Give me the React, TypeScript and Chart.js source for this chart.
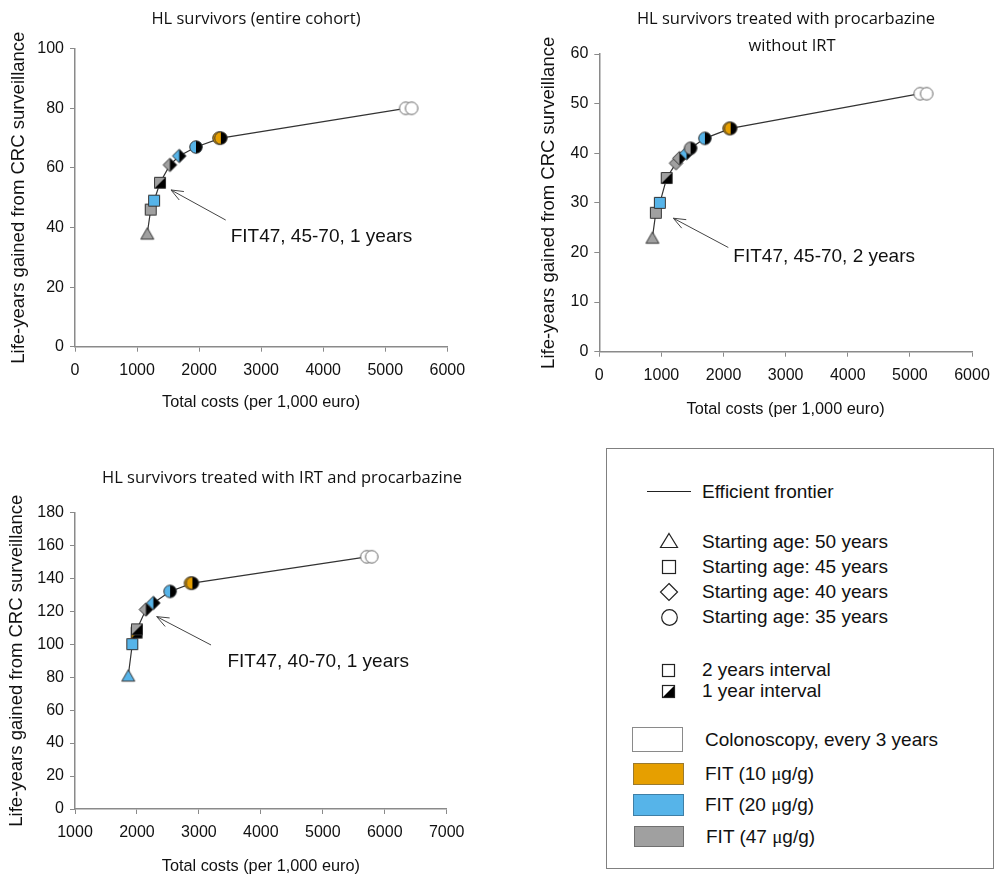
import React, { useEffect, useRef } from 'react';
import { Chart, registerables } from 'chart.js';

Chart.register(...registerables);

// ---------- colours ----------
const GRAY = '#A0A0A0';
const BLUE = '#56B4E9';
const ORANGE = '#E69F00';
const WHITE = '#FFFFFF';
const testColor: Record<string, string> = { FIT47: GRAY, FIT20: BLUE, FIT10: ORANGE, COL: WHITE };

// ---------- chart 1: entire cohort ----------
const c1Cost = [1165, 1220, 1275, 1370, 1530, 1680, 1950, 2320, 2350, 5330, 5425];
const c1LifeYears = [38, 46, 49, 55, 61, 64, 67, 70, 70, 80, 80];
const c1Shape = ['triangle', 'square', 'square', 'square', 'diamond', 'diamond', 'circle', 'circle', 'circle', 'circle', 'circle'];
const c1Test = ['FIT47', 'FIT47', 'FIT20', 'FIT47', 'FIT47', 'FIT20', 'FIT20', 'FIT10', 'FIT10', 'COL', 'COL'];
const c1Interval = [2, 2, 2, 1, 1, 1, 1, 2, 1, 3, 3];
const c1Frontier = [1, 1, 1, 1, 1, 1, 1, 0, 1, 1, 0];

// ---------- chart 2: procarbazine without IRT ----------
const c2Cost = [855, 910, 975, 1085, 1235, 1290, 1405, 1470, 1700, 2090, 2115, 5165, 5270];
const c2LifeYears = [23, 28, 30, 35, 38, 39, 40, 41, 43, 45, 45, 52, 52];
const c2Shape = ['triangle', 'square', 'square', 'square', 'diamond', 'diamond', 'diamond', 'circle', 'circle', 'circle', 'circle', 'circle', 'circle'];
const c2Test = ['FIT47', 'FIT47', 'FIT20', 'FIT47', 'FIT47', 'FIT47', 'FIT20', 'FIT47', 'FIT20', 'FIT10', 'FIT10', 'COL', 'COL'];
const c2Interval = [2, 2, 2, 1, 2, 1, 1, 1, 1, 2, 1, 3, 3];
const c2Frontier = [1, 1, 1, 1, 1, 1, 1, 1, 1, 0, 1, 1, 0];

// ---------- chart 3: IRT and procarbazine ----------
const c3Cost = [1860, 1925, 1995, 2000, 2145, 2265, 2535, 2865, 2895, 5710, 5790];
const c3LifeYears = [81, 100, 107, 109, 121, 125, 132, 137, 137, 153, 153];
const c3Shape = ['triangle', 'square', 'square', 'square', 'diamond', 'diamond', 'circle', 'circle', 'circle', 'circle', 'circle'];
const c3Test = ['FIT20', 'FIT20', 'FIT10', 'FIT47', 'FIT47', 'FIT20', 'FIT20', 'FIT10', 'FIT10', 'COL', 'COL'];
const c3Interval = [2, 2, 1, 1, 1, 1, 1, 2, 1, 3, 3];
const c3Frontier = [1, 1, 0, 1, 1, 1, 1, 0, 1, 1, 0];

// ---------- annotations (data coordinates) ----------
const noteText = ['FIT47, 45-70, 1 years', 'FIT47, 45-70, 2 years', 'FIT47, 40-70, 1 years'];
const noteTail = [[2429, 42.5], [2077, 21.0], [3196, 99.5]];
const noteHead = [[1547, 52.6], [1192, 26.9], [2319, 116.7]];
const noteLabel = [[2509, 36.8], [2158, 19.2], [3460, 89.4]];

// ---------- axes ----------
const xMin = [0, 0, 1000];
const xMax = [6000, 6000, 7000];
const yMax = [100, 60, 180];
const yStep = [20, 10, 20];
const chartTitles = [['HL survivors (entire cohort)'], ['HL survivors treated with procarbazine', 'without IRT'], ['HL survivors treated with IRT and procarbazine']];
const xTitle = 'Total costs (per 1,000 euro)';
const yTitle = 'Life-years gained from CRC surveillance';

const SANS = '"Liberation Sans", Arial, sans-serif';

function makeMarker(shape: string, fill: string, half: boolean): HTMLCanvasElement {
  const s = shape === 'square' ? 11 : shape === 'circle' ? 12.5 : shape === 'triangle' ? 13 : 13.5;
  const c = document.createElement('canvas');
  const W = Math.ceil(s + 3);
  c.width = W;
  c.height = W;
  const ctx = c.getContext('2d')!;
  const cx = W / 2, cy = W / 2;
  const p = new Path2D();
  if (shape === 'square') {
    p.rect(cx - s / 2, cy - s / 2, s, s);
  } else if (shape === 'circle') {
    p.arc(cx, cy, s / 2, 0, Math.PI * 2);
  } else if (shape === 'triangle') {
    const h = s * 0.87;
    p.moveTo(cx, cy - h / 2);
    p.lineTo(cx + s / 2, cy + h / 2);
    p.lineTo(cx - s / 2, cy + h / 2);
    p.closePath();
  } else {
    p.moveTo(cx, cy - s / 2);
    p.lineTo(cx + s / 2, cy);
    p.lineTo(cx, cy + s / 2);
    p.lineTo(cx - s / 2, cy);
    p.closePath();
  }
  ctx.fillStyle = fill;
  ctx.fill(p);
  if (half) {
    ctx.save();
    ctx.clip(p);
    ctx.fillStyle = '#000';
    ctx.beginPath();
    if (shape === 'square') {
      ctx.moveTo(cx + s / 2, cy - s / 2);
      ctx.lineTo(cx + s / 2, cy + s / 2);
      ctx.lineTo(cx - s / 2, cy + s / 2);
      ctx.closePath();
    } else {
      ctx.rect(cx, 0, W, W);
    }
    ctx.fill();
    ctx.restore();
  }
  ctx.strokeStyle = fill === WHITE ? '#666' : '#333';
  ctx.lineWidth = 1;
  ctx.stroke(p);
  return c;
}

function notePlugin(i: number) {
  return {
    id: 'arrowNote' + i,
    afterDatasetsDraw(chart: any) {
      const { ctx, scales } = chart;
      const x = scales.x, y = scales.y;
      const tx = x.getPixelForValue(noteTail[i][0]), ty = y.getPixelForValue(noteTail[i][1]);
      const hx = x.getPixelForValue(noteHead[i][0]), hy = y.getPixelForValue(noteHead[i][1]);
      ctx.save();
      ctx.strokeStyle = '#444';
      ctx.lineWidth = 1;
      ctx.beginPath();
      ctx.moveTo(tx, ty);
      ctx.lineTo(hx, hy);
      const ang = Math.atan2(ty - hy, tx - hx);
      const L = 13, a = 0.38;
      ctx.moveTo(hx + L * Math.cos(ang + a), hy + L * Math.sin(ang + a));
      ctx.lineTo(hx, hy);
      ctx.lineTo(hx + L * Math.cos(ang - a), hy + L * Math.sin(ang - a));
      ctx.stroke();
      ctx.fillStyle = '#111';
      ctx.font = '19px ' + SANS;
      ctx.textAlign = 'left';
      ctx.textBaseline = 'middle';
      ctx.fillText(noteText[i], x.getPixelForValue(noteLabel[i][0]), y.getPixelForValue(noteLabel[i][1]));
      ctx.restore();
    },
  };
}

type Spec = {
  idx: number;
  cost: number[];
  ly: number[];
  shape: string[];
  test: string[];
  interval: number[];
  frontier: number[];
  width: number;
  height: number;
  padTop: number;
  padRight: number;
  yWidth: number;
  xHeight: number;
  yTitlePad: number;
  xTitlePad: number;
};

function buildConfig(sp: Spec): any {
  const pts = sp.cost.map((c, k) => ({ x: c, y: sp.ly[k] }));
  const styles = sp.cost.map((_, k) => makeMarker(sp.shape[k], testColor[sp.test[k]], sp.interval[k] === 1));
  const front = pts.filter((_, k) => sp.frontier[k] === 1);
  const axisColor = '#8A8A8A';
  const plain = (v: any) => String(v);
  return {
    type: 'scatter',
    data: {
      datasets: [
        { data: pts, pointStyle: styles, pointRadius: 6, pointHoverRadius: 6, showLine: false },
        { data: front, showLine: true, borderColor: '#333', borderWidth: 1.2, pointRadius: 0, pointHoverRadius: 0, fill: false },
      ],
    },
    options: {
      animation: false,
      responsive: false,
      maintainAspectRatio: false,
      events: [],
      layout: { padding: { top: sp.padTop, right: sp.padRight, left: 0, bottom: 0 } },
      plugins: { legend: { display: false }, tooltip: { enabled: false } },
      scales: {
        x: {
          type: 'linear',
          min: xMin[sp.idx],
          max: xMax[sp.idx],
          ticks: { stepSize: 1000, callback: plain, font: { family: SANS, size: 16 }, color: '#111', padding: 9, maxRotation: 0 },
          grid: { drawOnChartArea: false, drawTicks: true, tickLength: 5, color: axisColor },
          border: { color: axisColor, width: 1.5 },
          title: { display: true, text: xTitle, font: { family: SANS, size: 16.3 }, color: '#111', padding: { top: 0, bottom: sp.xTitlePad } },
          afterFit: (s: any) => { s.height = sp.xHeight; },
        },
        y: {
          type: 'linear',
          min: 0,
          max: yMax[sp.idx],
          ticks: { stepSize: yStep[sp.idx], callback: plain, font: { family: SANS, size: 16 }, color: '#111', padding: 6 },
          grid: { drawOnChartArea: false, drawTicks: true, tickLength: 5, color: axisColor },
          border: { color: axisColor, width: 1.5 },
          title: { display: true, text: yTitle, font: { family: SANS, size: 18.5 }, color: '#111', padding: { top: sp.yTitlePad, bottom: 0 } },
          afterFit: (s: any) => { s.width = sp.yWidth; },
        },
      },
    },
    plugins: [notePlugin(sp.idx)],
  };
}

const specs: (Spec & { left: number; top: number })[] = [
  { idx: 0, cost: c1Cost, ly: c1LifeYears, shape: c1Shape, test: c1Test, interval: c1Interval, frontier: c1Frontier,
    left: 0, top: 0, width: 500, height: 420, padTop: 48.7, padRight: 52.7, yWidth: 75, xHeight: 73.3, yTitlePad: 8, xTitlePad: 8 },
  { idx: 1, cost: c2Cost, ly: c2LifeYears, shape: c2Shape, test: c2Test, interval: c2Interval, frontier: c2Frontier,
    left: 520, top: 0, width: 481, height: 425, padTop: 54, padRight: 29, yWidth: 79.3, xHeight: 73.3, yTitlePad: 18, xTitlePad: 6 },
  { idx: 2, cost: c3Cost, ly: c3LifeYears, shape: c3Shape, test: c3Test, interval: c3Interval, frontier: c3Frontier,
    left: 0, top: 440, width: 500, height: 436, padTop: 72.3, padRight: 53.3, yWidth: 75, xHeight: 67, yTitlePad: 6, xTitlePad: 0 },
];

function ChartCanvas({ spec }: { spec: Spec & { left: number; top: number } }) {
  const ref = useRef<HTMLCanvasElement | null>(null);
  useEffect(() => {
    if (!ref.current) return;
    const chart = new Chart(ref.current, buildConfig(spec));
    return () => chart.destroy();
  }, []);
  return (
    <canvas
      ref={ref}
      width={spec.width}
      height={spec.height}
      style={{ position: 'absolute', left: spec.left, top: spec.top, width: spec.width, height: spec.height }}
    />
  );
}

const titlePos = [
  [[256, 17]],
  [[786, 17], [792, 44]],
  [[282, 476]],
];

function Title({ text, x, y }: { text: string; x: number; y: number }) {
  return (
    <div style={{ position: 'absolute', left: x, top: y, transform: 'translate(-50%, -50%)', whiteSpace: 'nowrap',
      fontFamily: '"Open Sans", sans-serif', fontSize: 16.5, color: '#111' }}>{text}</div>
  );
}

function Row({ x, y, children }: { x: number; y: number; children: React.ReactNode }) {
  return (
    <div style={{ position: 'absolute', left: x, top: y - 12.5, height: 25, lineHeight: '25px', whiteSpace: 'nowrap',
      fontFamily: SANS, fontSize: 19, color: '#111' }}>{children}</div>
  );
}

function Sym({ cx, cy, size, children }: { cx: number; cy: number; size: number; children: React.ReactNode }) {
  return (
    <svg width={size} height={size} viewBox={`0 0 ${size} ${size}`}
      style={{ position: 'absolute', left: cx - size / 2, top: cy - size / 2, overflow: 'visible' }}>{children}</svg>
  );
}

function Box({ x0, y0, x1, y1, fill, stroke }: { x0: number; y0: number; x1: number; y1: number; fill: string; stroke: string }) {
  return <div style={{ position: 'absolute', left: x0, top: y0, width: x1 - x0, height: y1 - y0, background: fill, border: `1.5px solid ${stroke}`, boxSizing: 'border-box' }} />;
}

const mu = <span style={{ fontFamily: '"Liberation Serif", serif' }}>μ</span>;

function Legend() {
  return (
    <>
      <div style={{ position: 'absolute', left: 606, top: 448, width: 388, height: 421, border: '1.5px solid #808080', boxSizing: 'border-box' }} />
      <div style={{ position: 'absolute', left: 647, top: 491, width: 44, height: 0, borderTop: '1.3px solid #222' }} />
      <Row x={702} y={491}>Efficient frontier</Row>
      <Sym cx={669} cy={541} size={18}><polygon points="9,1.5 17.5,15.5 0.5,15.5" fill="none" stroke="#222" strokeWidth={1.2} /></Sym>
      <Row x={702} y={541}>Starting age: 50 years</Row>
      <Sym cx={669} cy={567} size={14}><rect x={0.5} y={0.5} width={13} height={13} fill="none" stroke="#222" strokeWidth={1.2} /></Sym>
      <Row x={702} y={566}>Starting age: 45 years</Row>
      <Sym cx={669} cy={592} size={18}><polygon points="9,0.5 17.5,9 9,17.5 0.5,9" fill="none" stroke="#222" strokeWidth={1.2} /></Sym>
      <Row x={702} y={591}>Starting age: 40 years</Row>
      <Sym cx={669} cy={617} size={17}><circle cx={8.5} cy={8.5} r={7.8} fill="none" stroke="#222" strokeWidth={1.2} /></Sym>
      <Row x={702} y={616}>Starting age: 35 years</Row>
      <Sym cx={668.5} cy={670} size={13}><rect x={0.5} y={0.5} width={12} height={12} fill="none" stroke="#222" strokeWidth={1.2} /></Sym>
      <Row x={702} y={669}>2 years interval</Row>
      <Sym cx={668.5} cy={691} size={13}>
        <polygon points="12.5,0.5 12.5,12.5 0.5,12.5" fill="#000" />
        <rect x={0.5} y={0.5} width={12} height={12} fill="none" stroke="#222" strokeWidth={1.2} />
      </Sym>
      <Row x={702} y={690}>1 year interval</Row>
      <Box x0={632} y0={726.5} x1={683} y1={752} fill={WHITE} stroke="#8A8A8A" />
      <Row x={705} y={739}>Colonoscopy, every 3 years</Row>
      <Box x0={633} y0={762.5} x1={683.5} y1={784.5} fill={ORANGE} stroke="#9A7A30" />
      <Row x={705} y={773}>FIT (10 {mu}g/g)</Row>
      <Box x0={633} y0={793.5} x1={683.5} y1={815.5} fill={BLUE} stroke="#3F7FA6" />
      <Row x={705} y={804.5}>FIT (20 {mu}g/g)</Row>
      <Box x0={633.5} y0={825.5} x1={683.5} y1={847} fill={GRAY} stroke="#707070" />
      <Row x={706} y={836}>FIT (47 {mu}g/g)</Row>
    </>
  );
}

export default function App() {
  return (
    <div style={{ position: 'absolute', left: 0, top: 0, width: 1001, height: 876, background: '#fff', overflow: 'hidden' }}>
      {specs.map((s) => <ChartCanvas key={s.idx} spec={s} />)}
      {chartTitles.map((lines, i) => lines.map((t, j) => <Title key={i + '-' + j} text={t} x={titlePos[i][j][0]} y={titlePos[i][j][1]} />))}
      <Legend />
    </div>
  );
}
